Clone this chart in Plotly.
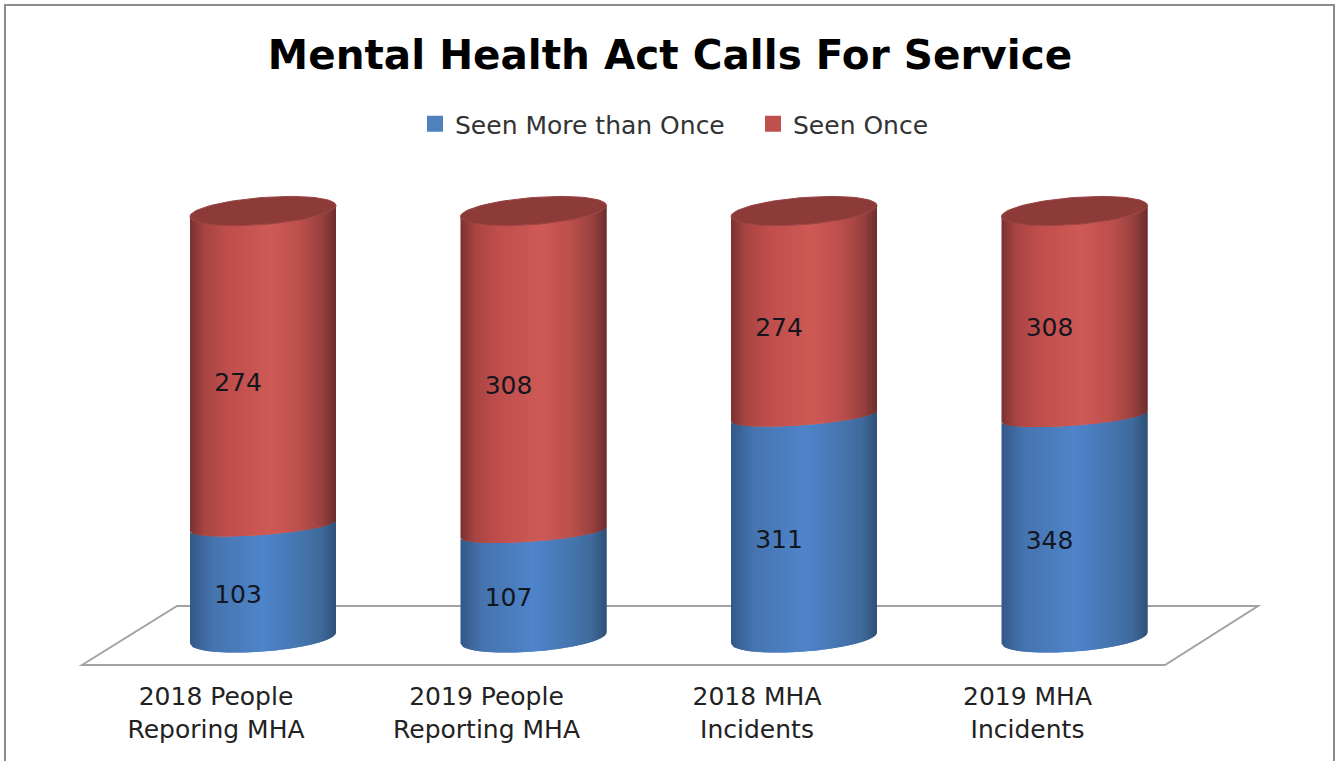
import numpy as np
import plotly.graph_objects as go

# Chart content
title = "Mental Health Act Calls For Service"
categories = ["2018 People<br>Reporing MHA", "2019 People<br>Reporting MHA",
              "2018 MHA<br>Incidents", "2019 MHA<br>Incidents"]
seen_more = [103, 107, 311, 348]
seen_once = [274, 308, 274, 308]

# Canvas and scale: one category step and one full stack, in pixels
W, H = 1335, 761
PLOT_H = 675
STEP = 270.5
X0_PX = 216
Y0_PX = 642
FULL_PX = 425

# Oblique 3D look of the cylinders, in pixels
SHIFT_PX = 47          # cylinders sit behind the category position
HALF_W = 73
RIM_END = 13.5         # ellipse minor radius at the base and the top
RIM_MID = 9            # flatter ellipse where the two segments meet
RIM_TILT = 5.5         # right side of each ellipse is raised by this much
BASE_LIFT = 4
TOP_LIFT = 6
LABEL_DX = 22
LABEL_DROP = 13
STRIPS = 60

RED_STOPS = [(-1, "#7a3230"), (-0.8, "#a84543"), (-0.5, "#bf4e4c"), (0.1, "#cf5a56"),
             (0.5, "#bd504d"), (0.8, "#9a4240"), (1, "#6c2e2c")]
BLUE_STOPS = [(-1, "#34598a"), (-0.7, "#4674ae"), (0, "#4f85cb"), (0.5, "#4676b0"),
              (0.8, "#3f6a9a"), (1, "#2f4f78")]
RED_KEY, BLUE_KEY = "#c0504d", "#4f81bd"
CAP_COLOR = "#8c3b39"
FONT = "DejaVu Sans"


def ramp(stops, u):
    pos = [s[0] for s in stops]
    rgb = np.array([[int(s[1][i:i + 2], 16) for i in (1, 3, 5)] for s in stops], float)
    return "rgb(%d,%d,%d)" % tuple(np.interp(u, pos, rgb[:, k]) for k in range(3))


def front(level, u, minor):
    """Height of the near edge of a rim centred on the given stack level."""
    return level + (-minor * np.sqrt(np.clip(1 - u ** 2, 0, 1)) + RIM_TILT * u) / FULL_PX


fig = go.Figure()
edges = np.linspace(-1, 1, STRIPS + 1)
dx = HALF_W / STEP
shift = SHIFT_PX / STEP

for i, (more, once) in enumerate(zip(seen_more, seen_once)):
    total = more + once
    boundary = more / total
    cx = i + shift
    base = BASE_LIFT / FULL_PX
    top = 1 + TOP_LIFT / FULL_PX
    segments = ((base, RIM_END, boundary, RIM_MID, BLUE_STOPS),
                (boundary, RIM_MID, top, RIM_END, RED_STOPS))
    for lo, lo_minor, hi, hi_minor, stops in segments:
        # Each strip runs on under its right neighbour so no seams show between them
        for k in range(STRIPS):
            u0, u1 = edges[k], edges[min(k + 2, STRIPS)]
            uu = np.linspace(u0, u1, 5)
            xs = np.concatenate([cx + dx * uu, cx + dx * uu[::-1]])
            ys = np.concatenate([front(lo, uu, lo_minor), front(hi, uu[::-1], hi_minor)])
            color = ramp(stops, (edges[k] + edges[k + 1]) / 2)
            fig.add_trace(go.Scatter(x=xs, y=ys, mode="lines", fill="toself", fillcolor=color,
                                     line=dict(width=0), showlegend=False, hoverinfo="skip"))
    # Open top of the cylinder
    t = np.linspace(0, 2 * np.pi, 90)
    fig.add_trace(go.Scatter(x=cx + dx * np.cos(t),
                             y=top + (RIM_END * np.sin(t) + RIM_TILT * np.cos(t)) / FULL_PX,
                             mode="lines", fill="toself", fillcolor=CAP_COLOR,
                             line=dict(color="#9a4240", width=1), showlegend=False,
                             hoverinfo="skip"))

# Value labels on each stack segment
xpos = np.arange(len(categories))
more_arr = np.array(seen_more, float)
once_arr = np.array(seen_once, float)
share = more_arr / (more_arr + once_arr)
label_font = dict(family=FONT, size=25, color="#14161f")
fig.add_trace(go.Scatter(x=xpos + LABEL_DX / STEP, y=share / 2 - LABEL_DROP / FULL_PX, mode="text",
                         text=[str(v) for v in seen_more], textfont=label_font,
                         textposition="middle center", showlegend=False, hoverinfo="skip"))
fig.add_trace(go.Scatter(x=xpos + LABEL_DX / STEP, y=(share + 1) / 2 - LABEL_DROP / FULL_PX, mode="text",
                         text=[str(v) for v in seen_once], textfont=label_font,
                         textposition="middle center", showlegend=False, hoverinfo="skip"))

# Legend keys
for name, color in (("Seen More than Once", BLUE_KEY), ("Seen Once", RED_KEY)):
    fig.add_trace(go.Scatter(x=[None], y=[None], mode="markers", name=name,
                             marker=dict(symbol="square", size=16, color=color)))


def px(x):
    return x / W


def py(y):
    return 1 - y / PLOT_H


floor = [(82, 665), (177, 606), (1258, 606), (1165, 665)]
floor_path = "M" + " L".join(f"{px(x):.5f},{py(y):.5f}" for x, y in floor) + " Z"
frame = [(5, 770), (5, 5), (1334, 5), (1334, 770)]
frame_path = "M" + " L".join(f"{px(x):.5f},{py(y):.5f}" for x, y in frame)

fig.update_layout(
    width=W, height=H, autosize=False,
    margin=dict(l=0, r=0, t=0, b=H - PLOT_H),
    paper_bgcolor="white", plot_bgcolor="white",
    font=dict(family=FONT, color="#222222"),
    title=dict(text=f"<b>{title}</b>", x=670 / W, xanchor="center", y=1 - 55 / H, yanchor="middle",
               font=dict(family=FONT, size=40.5, color="#000000")),
    showlegend=True,
    legend=dict(orientation="h", x=415 / W, xanchor="left", y=py(124), yanchor="middle",
                font=dict(family=FONT, size=25, color="#333333"), bgcolor="rgba(0,0,0,0)",
                entrywidth=293, entrywidthmode="pixels",
                itemclick=False, itemdoubleclick=False),
    xaxis=dict(range=[-X0_PX / STEP, (W - X0_PX) / STEP], tickmode="array",
               tickvals=list(xpos), ticktext=categories, showgrid=False, zeroline=False,
               showline=False, ticks="", tickangle=0, ticklabelstandoff=4,
               tickfont=dict(family=FONT, size=25, color="#222222")),
    yaxis=dict(range=[(Y0_PX - PLOT_H) / FULL_PX, Y0_PX / FULL_PX], visible=False),
    shapes=[
        dict(type="path", path=floor_path, xref="paper", yref="paper", layer="below",
             line=dict(color="#a3a3a3", width=2), fillcolor="rgba(0,0,0,0)"),
        dict(type="path", path=frame_path, xref="paper", yref="paper", layer="below",
             line=dict(color="#8c8c8c", width=2), fillcolor="rgba(0,0,0,0)"),
    ],
)

fig.write_html("out.html")
